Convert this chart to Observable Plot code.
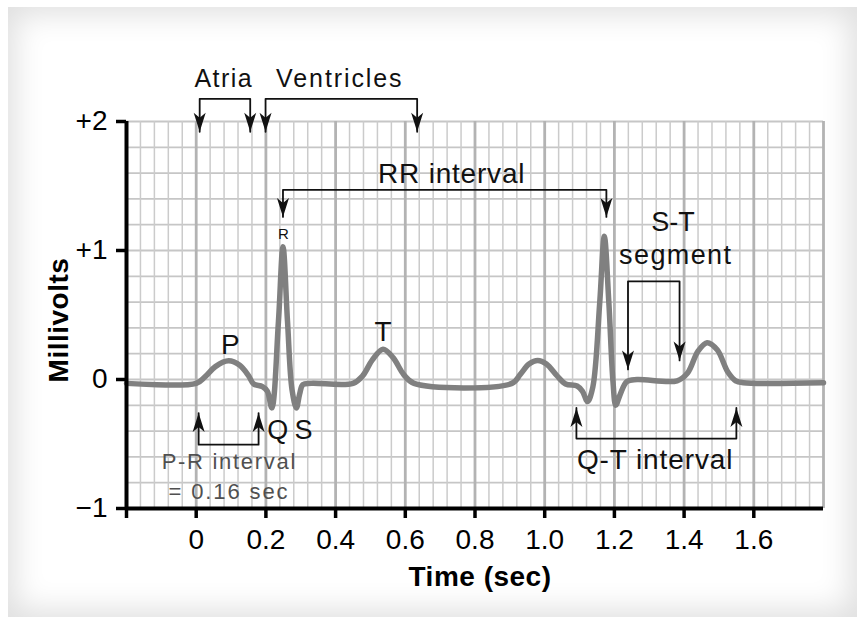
<!DOCTYPE html>
<html><head><meta charset="utf-8">
<script src="https://cdn.jsdelivr.net/npm/d3@7"></script>
<script src="https://cdn.jsdelivr.net/npm/@observablehq/plot@0.6"></script>
<style>
html,body{margin:0;padding:0;background:#fff;}
#frame{position:absolute;left:8px;top:7px;width:849px;height:610px;box-shadow:inset 0 0 30px 7px rgba(0,0,0,0.13);}
#chart{position:absolute;left:0;top:0;}
</style></head><body>
<div id="frame"></div><div id="chart"></div>
<script>
// ECG trace (time in sec, millivolts)
const ecgTime = [-0.2, 0.0, 0.025, 0.055, 0.093, 0.125, 0.15, 0.165, 0.19, 0.204, 0.217, 0.236, 0.249, 0.262, 0.275, 0.2875, 0.297, 0.306, 0.33,
  0.45, 0.478, 0.505, 0.536, 0.565, 0.595, 0.625,
  0.906, 0.93, 0.955, 0.98, 1.005, 1.035, 1.06, 1.093, 1.108, 1.123, 1.138, 1.158, 1.171, 1.184, 1.196, 1.204, 1.216, 1.236, 1.265,
  1.38, 1.41, 1.44, 1.466, 1.495, 1.525, 1.548, 1.57, 1.8];
const ecgMv = [-0.03, -0.03, 0.02, 0.10, 0.145, 0.11, 0.03, -0.035, -0.055, -0.09, -0.22, 0.45, 1.03, 0.45, -0.08, -0.22, -0.11, -0.04, -0.03,
  -0.03, 0.03, 0.15, 0.235, 0.17, 0.04, -0.03,
  -0.03, 0.04, 0.12, 0.148, 0.12, 0.03, -0.035, -0.05, -0.09, -0.17, -0.06, 0.6, 1.11, 0.6, -0.02, -0.2, -0.12, -0.015, 0.0,
  -0.01, 0.05, 0.22, 0.285, 0.23, 0.06, -0.01, -0.025, -0.025];

// Axis ticks
const xTickValues = [-0.2, 0, 0.2, 0.4, 0.6, 0.8, 1.0, 1.2, 1.4, 1.6];
const xTickLabels = ["", "0", "0.2", "0.4", "0.6", "0.8", "1.0", "1.2", "1.4", "1.6"];
const yTickValues = [-1, 0, 1, 2];
const yTickLabels = ["\u22121", "0", "+1", "+2"];
const xTitle = "Time (sec)";
const yTitle = "Millivolts";

// Bracket annotations (time in sec, millivolts)
const bracketNames = ["Atria", "Ventricles", "RR", "ST", "PR", "QT"];
const bracketStart = [0.01, 0.199, 0.249, 1.239, 0.007, 1.091];
const bracketEnd = [0.155, 0.634, 1.177, 1.387, 0.179, 1.55];
const bracketBar = [2.176, 2.176, 1.47, 0.76, -0.505, -0.458];
const bracketTipStart = [1.92, 1.92, 1.26, 0.078, -0.26, -0.22];
const bracketTipEnd = [1.92, 1.92, 1.26, 0.148, -0.26, -0.22];

// Text labels
const labelText = ["Atria", "Ventricles", "RR interval", "R", "P", "T", "Q", "S", "S-T", "segment", "P-R interval", "= 0.16 sec", "Q-T interval"];
const labelTime = [0.079, 0.412, 0.733, 0.25, 0.098, 0.536, 0.234, 0.308, 1.368, 1.376, 0.095, 0.094, 1.317];
const labelMv = [2.271, 2.271, 1.525, 1.093, 0.197, 0.298, -0.464, -0.464, 1.148, 0.899, -0.697, -0.93, -0.697];

// ---- styles ----
const labelStyle = {
  "Atria": {size: 25, ls: 1.4, fill: "#111"},
  "Ventricles": {size: 25, ls: 1.9, fill: "#111"},
  "RR interval": {size: 28, ls: 0.8, fill: "#111"},
  "R": {size: 15, ls: 0, fill: "#111"},
  "P": {size: 28, ls: 0, fill: "#111"},
  "T": {size: 28, ls: 0, fill: "#111"},
  "Q": {size: 27, ls: 0, fill: "#111"},
  "S": {size: 27, ls: 0, fill: "#111"},
  "S-T": {size: 27, ls: 0, fill: "#111"},
  "segment": {size: 27, ls: 1.4, fill: "#111"},
  "P-R interval": {size: 22, ls: 1.7, fill: "#505050"},
  "= 0.16 sec": {size: 22, ls: 1.9, fill: "#505050"},
  "Q-T interval": {size: 28, ls: 0.9, fill: "#111"}
};
const FONT = "'Liberation Sans', Arial, Helvetica, sans-serif";

const ecg = ecgTime.map((t, i) => ({t, mv: ecgMv[i]}));
const labels = labelText.map((s, i) => ({s, t: labelTime[i], mv: labelMv[i]}));
const bracketPts = [];
const tipsDown = [], tipsUp = [];
bracketNames.forEach((n, i) => {
  bracketPts.push({n, t: bracketStart[i], mv: bracketTipStart[i]});
  bracketPts.push({n, t: bracketStart[i], mv: bracketBar[i]});
  bracketPts.push({n, t: bracketEnd[i], mv: bracketBar[i]});
  bracketPts.push({n, t: bracketEnd[i], mv: bracketTipEnd[i]});
  const dest = bracketTipStart[i] < bracketBar[i] ? tipsDown : tipsUp;
  dest.push({t: bracketStart[i], mv: bracketTipStart[i]});
  dest.push({t: bracketEnd[i], mv: bracketTipEnd[i]});
});

const arrowDown = {draw(ctx) { ctx.moveTo(0, 0); ctx.lineTo(-6, -19); ctx.lineTo(0, -14); ctx.lineTo(6, -19); ctx.closePath(); }};
const arrowUp = {draw(ctx) { ctx.moveTo(0, 0); ctx.lineTo(-6, 19); ctx.lineTo(0, 14); ctx.lineTo(6, 19); ctx.closePath(); }};

const xMap = new Map(xTickValues.map((v, i) => [v, xTickLabels[i]]));
const yMap = new Map(yTickValues.map((v, i) => [v, yTickLabels[i]]));

const minorX = d3.range(0, 51).map(i => -0.2 + i * 0.04).filter((v, i) => i % 5 !== 0);
const majorX = d3.range(0, 11).map(i => -0.2 + i * 0.2);
const gridY = d3.range(0, 16).map(i => -1 + i * 0.2);

const textMarks = labels.map(d => {
  const st = labelStyle[d.s];
  return Plot.text([d], {x: "t", y: "mv", text: "s", textAnchor: "middle", lineAnchor: "bottom",
    fontSize: st.size, fill: st.fill, fontFamily: FONT});
});

const chart = Plot.plot({
  width: 865, height: 617,
  marginLeft: 126, marginRight: 42, marginTop: 121, marginBottom: 109,
  x: {domain: [-0.2, 1.8]},
  y: {domain: [-1, 2]},
  style: {background: "transparent", fontFamily: FONT, color: "#000"},
  marks: [
    Plot.ruleY(gridY, {stroke: "#c6c6c6", strokeWidth: 1.8}),
    Plot.ruleX(minorX, {stroke: "#cbcbcb", strokeWidth: 1.5}),
    Plot.ruleX(majorX, {stroke: "#b3b3b3", strokeWidth: 2.8}),
    Plot.line(ecg, {x: "t", y: "mv", stroke: "#808080", strokeWidth: 5.5, curve: "catmull-rom", strokeLinejoin: "round", strokeLinecap: "round"}),
    Plot.ruleX([-0.2], {stroke: "#000", strokeWidth: 4}),
    Plot.ruleY([-1], {stroke: "#000", strokeWidth: 4}),
    Plot.axisX(xTickValues, {tickFormat: d => xMap.get(d), tickSize: 10, tickPadding: 11, fontSize: 28, strokeWidth: 3.5, color: "#000", label: null, anchor: "bottom"}),
    Plot.axisY(yTickValues, {tickFormat: d => yMap.get(d), tickSize: 10, tickPadding: 9, fontSize: 28, strokeWidth: 3.5, color: "#000", label: null, anchor: "left"}),
    Plot.line(bracketPts, {x: "t", y: "mv", z: "n", stroke: "#111", strokeWidth: 1.8}),
    Plot.dot(tipsDown, {x: "t", y: "mv", symbol: arrowDown, fill: "#111", stroke: null}),
    Plot.dot(tipsUp, {x: "t", y: "mv", symbol: arrowUp, fill: "#111", stroke: null}),
    ...textMarks,
    Plot.text([xTitle], {frameAnchor: "bottom", text: d => d, dx: 5, dy: 77, lineAnchor: "bottom", fontSize: 28, fontWeight: "bold", fill: "#000"}),
    Plot.text([yTitle], {frameAnchor: "left", text: d => d, dx: -67, dy: 5, rotate: -90, lineAnchor: "middle", textAnchor: "middle", fontSize: 28, fontWeight: "bold", fill: "#000"})
  ]
});
document.getElementById("chart").appendChild(chart);
d3.select(chart).selectAll("text").each(function() {
  const st = labelStyle[this.textContent];
  if (st && st.ls) this.style.letterSpacing = st.ls + "px";
  if (this.textContent === xTitle || this.textContent === yTitle) this.style.letterSpacing = "0.5px";
});
</script>
</body></html>
